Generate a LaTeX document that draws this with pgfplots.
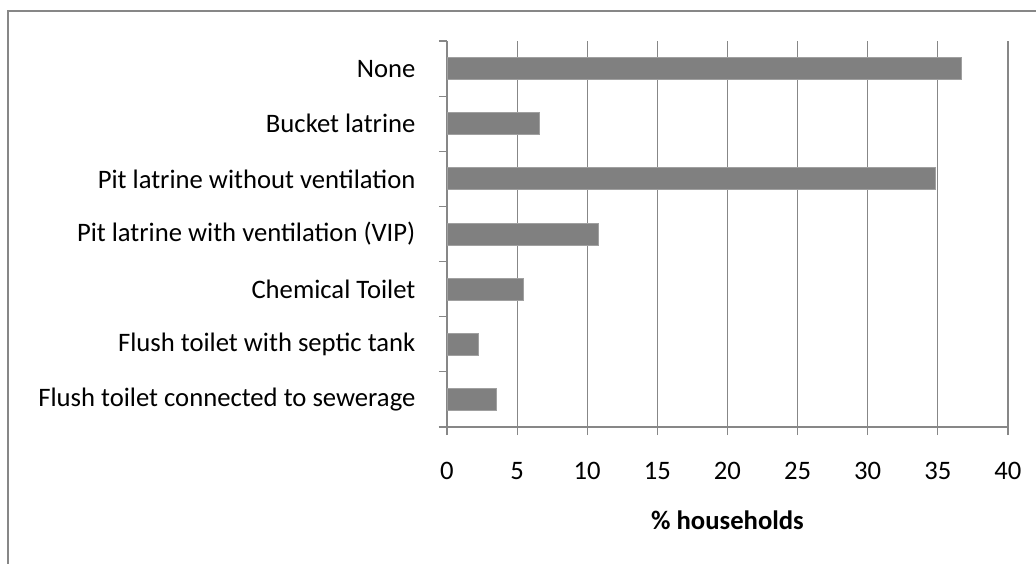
\documentclass[border=0pt]{standalone}
\usepackage{fontspec}
\setmainfont{Carlito}
\usepackage{pgfplots}
\pgfplotsset{compat=1.18}
\usetikzlibrary{calc}
\definecolor{bargray}{HTML}{808080}
\definecolor{gridgray}{HTML}{878787}
\begin{document}
\begin{tikzpicture}[x=0.75pt,y=0.75pt]
\begin{axis}[
  scale only axis, width=420.75pt, height=289.5pt,
  xmin=0, xmax=40, ymin=-0.5, ymax=6.5,
  xtick={0,5,...,40},
  ytick={0,1,...,6},
  yticklabels={Flush toilet connected to sewerage,
    Flush toilet with septic tank, Chemical Toilet,
    Pit latrine with ventilation (VIP), Pit latrine without ventilation,
    Bucket latrine, None},
  minor ytick={-0.5,0.5,...,6.5},
  axis x line*=bottom, axis y line*=left,
  axis line style={gridgray, line width=0.9pt, -},
  x axis line style={shorten <=-6pt},
  xmajorgrids, grid style={gridgray, line width=0.9pt},
  tick align=outside,
  major tick length=6pt, minor tick length=6pt,
  tick style={gridgray, line width=0.9pt},
  major y tick style={draw=none},
  /pgf/number format/assume math mode=true,
  tick label style={font=\fontsize{20}{24}\selectfont},
  yticklabel style={inner sep=0pt, xshift=-17.5pt},
  xticklabel style={inner sep=0pt, anchor=base, yshift=-33pt},
  xlabel={\textbf{\% households}},
  xlabel style={font=\fontsize{20}{24}\selectfont, inner sep=0pt,
    at={(axis description cs:0.5,0)}, anchor=base, yshift=-77.2pt},
  xbar, bar width=16.5pt,
]
\addplot[fill=bargray, draw=bargray!75!white, line width=0.6pt] coordinates {
  (3.53,0) (2.24,1) (5.43,2) (10.8,3) (34.8,4) (6.6,5) (36.7,6)
};
\coordinate (O) at (rel axis cs:0,0);
\end{axis}
% chart frame (right and bottom edges fall outside the image)
\draw[gridgray, line width=1.2pt] ($(O)+(-439,-150)$) -- ($(O)+(-439,416)$) -- ($(O)+(600,416)$);
\pgfresetboundingbox
\useasboundingbox ($(O)+(-447,-137)$) rectangle ($(O)+(589,427)$);
\end{tikzpicture}
\end{document}
